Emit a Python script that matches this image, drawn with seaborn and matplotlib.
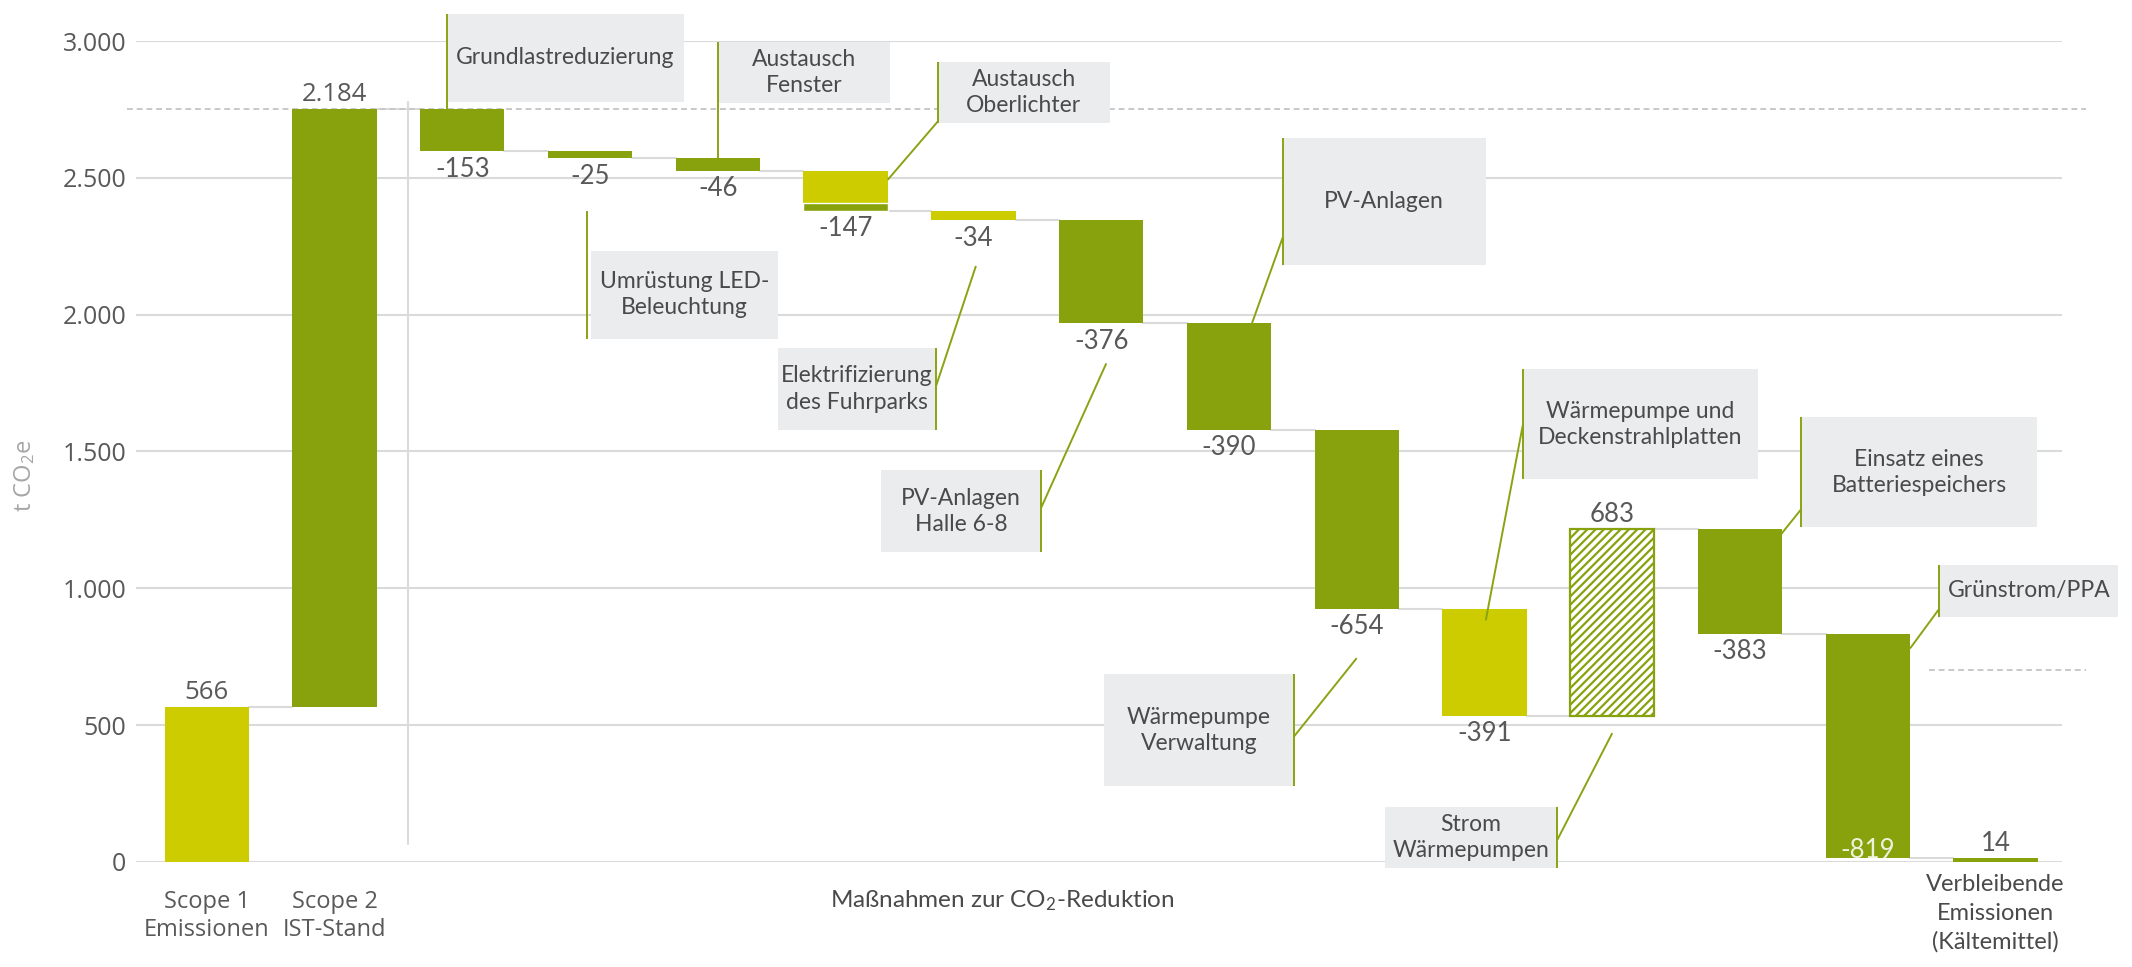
import matplotlib
matplotlib.use("Agg")
import matplotlib.pyplot as plt
from matplotlib.patches import Rectangle
import pandas as pd
import seaborn as sns

# --- data -----------------------------------------------------------------
steps = ["Scope 1 Emissionen", "Scope 2 IST-Stand", "Grundlastreduzierung",
         "Umrüstung LED-Beleuchtung", "Austausch Fenster", "Austausch Oberlichter",
         "Elektrifizierung des Fuhrparks", "PV-Anlagen Halle 6-8", "PV-Anlagen",
         "Wärmepumpe Verwaltung", "Wärmepumpe und Deckenstrahlplatten",
         "Strom Wärmepumpen", "Einsatz eines Batteriespeichers", "Grünstrom/PPA",
         "Verbleibende Emissionen (Kältemittel)"]
changes = [566, 2184, -153, -25, -46, -147, -34, -376, -390, -654, -391, 683, -383, -819, 14]
kinds = ["yellow", "green", "green", "green", "green", "yellow", "yellow", "green",
         "green", "green", "yellow", "hatch", "green", "green", "green"]
is_total = [False] * 14 + [True]
label_inside = [False] * 13 + [True, False]
oberlichter_green = 30     # green share at the bottom of the Oberlichter bar
target_level = 700         # short dashed line on the right
yticks = [0, 500, 1000, 1500, 2000, 2500, 3000]

GREEN = "#87a20d"
YELLOW = "#cccc00"
BOX = "#ebecee"
GRID = "#dadada"
LINE = "#8aa313"
TXT = "#595959"
ANN = "#4a4a4a"
LATO = ["Lato", "DejaVu Sans"]
OPEN = ["Open Sans", "DejaVu Sans"]

sns.set_theme(style="white")
plt.rcParams["font.family"] = LATO
plt.rcParams["hatch.linewidth"] = 1.6

# running totals of the waterfall
bottoms, heights, levels = [], [], []
level = 0
for v, tot in zip(changes, is_total):
    if tot:
        bottoms.append(0)
        heights.append(v)
        level = v
    else:
        bottoms.append(min(level, level + v))
        heights.append(abs(v))
        level += v
    levels.append(level)

df = pd.DataFrame({"step": range(len(steps)), "height": heights, "kind": kinds})

fig = plt.figure(figsize=(21.32, 9.67), dpi=100)
ax = fig.add_axes([0.0638, 0.1086, 0.9034, 0.849])

W = 0.66
palette = {"green": GREEN, "yellow": YELLOW, "hatch": "white"}
sns.barplot(data=df, x="step", y="height", hue="kind", palette=palette, dodge=False,
            width=W, saturation=1, errorbar=None, legend=False, ax=ax, zorder=3)

# move the bars onto their floating bottoms
for p in list(ax.patches):
    i = int(round(p.get_x() + p.get_width() / 2))
    p.set_y(bottoms[i])
    p.set_linewidth(0)
    if kinds[i] == "hatch":
        p.set_hatch("////")
        p.set_edgecolor(GREEN)
        p.set_linewidth(1.6)

# green share of the Oberlichter bar
io = steps.index("Austausch Oberlichter")
ax.bar(io, oberlichter_green, bottom=bottoms[io], width=W, color=GREEN, zorder=3)

# connectors between bars
for i in range(len(steps) - 1):
    ax.plot([i + W / 2, i + 1 - W / 2], [levels[i]] * 2, color=GRID, lw=1.5, zorder=2)

# dashed reference lines and separator
ax.plot([-0.62, 14.71], [levels[1]] * 2, ls=(0, (3, 2)), color="#c8c8c8", lw=1.4,
        clip_on=False, zorder=2)
ax.plot([13.48, 14.71], [target_level] * 2, ls=(0, (3, 2)), color="#c8c8c8", lw=1.4,
        clip_on=False, zorder=2)
ax.plot([1.575, 1.575], [67, 2776], color=GRID, lw=1.5, zorder=2)

# callout boxes: text, box (x0, x1, y0, y1), green line segments
callouts = [
    ("Grundlastreduzierung", (1.88, 3.735, 2777, 3099),
     [[(1.88, 3099), (1.88, 2750)]]),
    ("Austausch\nFenster", (4.0, 5.35, 2775, 2996),
     [[(4.0, 2996), (4.0, 2572)]]),
    ("Austausch\nOberlichter", (5.72, 7.07, 2700, 2924),
     [[(5.72, 2924), (5.72, 2700)], [(5.72, 2705), (5.33, 2493)]]),
    ("Umrüstung LED-\nBeleuchtung", (3.01, 4.47, 1912, 2233),
     [[(2.98, 2378), (2.98, 1912)]]),
    ("Elektrifizierung\ndes Fuhrparks", (4.47, 5.71, 1578, 1879),
     [[(5.71, 1879), (5.71, 1578)], [(5.71, 1742), (6.02, 2178)]]),
    ("PV-Anlagen\nHalle 6-8", (5.28, 6.53, 1131, 1433),
     [[(6.53, 1433), (6.53, 1131)], [(6.53, 1294), (7.04, 1822)]]),
    ("PV-Anlagen", (8.42, 10.01, 2183, 2644),
     [[(8.42, 2644), (8.42, 2183)], [(8.42, 2281), (8.18, 1968)]]),
    ("Wärmepumpe\nVerwaltung", (7.02, 8.51, 277, 686),
     [[(8.51, 686), (8.51, 277)], [(8.51, 459), (9.0, 745)]]),
    ("Wärmepumpe und\nDeckenstrahlplatten", (10.30, 12.14, 1400, 1800),
     [[(10.30, 1800), (10.30, 1400)], [(10.30, 1597), (10.01, 883)]]),
    ("Strom\nWärmepumpen", (9.22, 10.57, -23, 200),
     [[(10.57, 200), (10.57, -23)], [(10.57, 81), (11.0, 471)]]),
    ("Einsatz eines\nBatteriespeichers", (12.48, 14.32, 1223, 1626),
     [[(12.48, 1626), (12.48, 1223)], [(12.48, 1290), (12.32, 1197)]]),
    ("Grünstrom/PPA", (13.56, 14.96, 897, 1086),
     [[(13.56, 1086), (13.56, 897)], [(13.56, 926), (13.33, 780)]]),
]
for text, (x0, x1, y0, y1), segs in callouts:
    ax.add_patch(Rectangle((x0, y0), x1 - x0, y1 - y0, facecolor=BOX, edgecolor="none",
                           zorder=4, clip_on=False))
    for seg in segs:
        xs, ys = zip(*seg)
        ax.plot(xs, ys, color=LINE, lw=1.4, zorder=5, clip_on=False, solid_capstyle="butt")
    ax.text((x0 + x1) / 2, (y0 + y1) / 2, text, ha="center", va="center", fontsize=16.5,
            color=ANN, linespacing=1.3, zorder=6, clip_on=False)

# value labels
for i, v in enumerate(changes):
    lab = f"{v:,}".replace(",", ".")
    fam = OPEN if i < 2 else LATO
    top = bottoms[i] + heights[i]
    if label_inside[i]:
        ax.text(i, bottoms[i] - 2, lab, ha="center", va="baseline", fontsize=18.5,
                color="#eef2dd", family=fam, zorder=6)
    elif v > 0:
        ax.annotate(lab, (i, top), xytext=(0, 1.5), textcoords="offset points",
                    ha="center", va="bottom", fontsize=18.5, color=TXT, family=fam, zorder=6)
    else:
        ax.annotate(lab, (i, bottoms[i]), xytext=(0, -4), textcoords="offset points",
                    ha="center", va="top", fontsize=18.5, color=TXT, family=fam, zorder=6)

# category labels under the axis
ax.text(0, -197, "Scope 1\nEmissionen", ha="center", va="center", fontsize=17,
        color=TXT, family=OPEN, linespacing=1.2, clip_on=False)
ax.text(1, -197, "Scope 2\nIST-Stand", ha="center", va="center", fontsize=17,
        color=TXT, family=OPEN, linespacing=1.2, clip_on=False)
ax.text(6.23, -143, "Maßnahmen zur CO$\\mathregular{_2}$-Reduktion", ha="center",
        va="center", fontsize=17.5, color=ANN, clip_on=False)
ax.text(14, -188, "Verbleibende\nEmissionen\n(Kältemittel)", ha="center", va="center",
        fontsize=17, color=ANN, linespacing=1.42, clip_on=False)

fig.text(25 / 2132, 1 - 476 / 967, "t CO$\\mathregular{_2}$e", rotation=90, ha="center",
         va="center", fontsize=17, color="#a6a6a6", family=OPEN)

ax.set_xlim(-0.553, 14.52)
ax.set_ylim(0, 3000)
ax.set_yticks(yticks)
ax.set_yticklabels([f"{v:,}".replace(",", ".") for v in yticks], family=OPEN,
                   fontsize=18, color=TXT)
ax.set_xticks([])
ax.set_xlabel("")
ax.set_ylabel("")
ax.yaxis.grid(True, color=GRID, lw=1.5)
ax.set_axisbelow(True)
for s in ax.spines.values():
    s.set_visible(False)
ax.tick_params(axis="y", length=0, pad=7)

fig.savefig("out.png", dpi=100)
